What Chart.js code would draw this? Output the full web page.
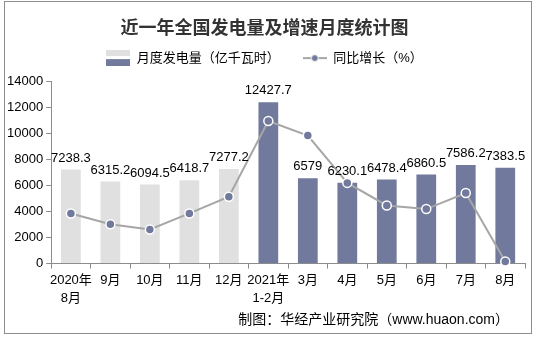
<!DOCTYPE html>
<html>
<head>
<meta charset="utf-8">
<script src="https://cdn.jsdelivr.net/npm/chart.js@4/dist/chart.umd.min.js"></script>
<style>
  html, body { margin: 0; padding: 0; background: #fff; }
  #wrap { position: relative; width: 536px; height: 338px; }
  #frame { position: absolute; left: 4px; top: 1px; width: 526px; height: 331px; border: 1px solid #8c8c8c; pointer-events: none; }
  #source { position: absolute; right: 27px; top: 308px; font: 14px "Liberation Sans", "Noto Sans CJK SC", sans-serif; color: #000; white-space: nowrap; }
</style>
</head>
<body>
<div id="wrap">
  <canvas id="chart" width="536" height="338"></canvas>
  <div id="frame"></div>
  <div id="source">制图：华经产业研究院（www.huaon.com）</div>
</div>
<script>
// 数据
const months = [['2020年', '8月'], '9月', '10月', '11月', '12月', ['2021年', '1-2月'], '3月', '4月', '5月', '6月', '7月', '8月'];
const generation = [7238.3, 6315.2, 6094.5, 6418.7, 7277.2, 12427.7, 6579, 6230.1, 6478.4, 6860.5, 7586.2, 7383.5];
const growth = [6.9, 5.4, 4.7, 6.9, 9.2, 19.6, 17.6, 11.1, 8.0, 7.5, 9.7, 0.3];
const yTicks = [0, 2000, 4000, 6000, 8000, 10000, 12000, 14000];

const GRAY = '#e0e0e0';
const BLUE = '#717a9c';
const FONT = '"Liberation Sans", "Noto Sans CJK SC", sans-serif';

// 柱子颜色：2020年灰色，2021年蓝色
const barColors = months.map((m, i) => i < 5 ? GRAY : BLUE);

// 图例图标
function barIcon() {
    const c = document.createElement('canvas');
    c.width = 24; c.height = 16;
    const g = c.getContext('2d');
    g.fillStyle = GRAY; g.fillRect(0, 0, 24, 6);
    g.fillStyle = BLUE; g.fillRect(0, 9, 24, 7);
    return c;
}
function lineIcon() {
    const c = document.createElement('canvas');
    c.width = 24; c.height = 10;
    const g = c.getContext('2d');
    g.strokeStyle = '#a6a6a6'; g.lineWidth = 2;
    g.beginPath(); g.moveTo(0, 5); g.lineTo(24, 5); g.stroke();
    g.fillStyle = BLUE; g.strokeStyle = '#fff'; g.lineWidth = 1;
    g.beginPath(); g.arc(12, 5, 3.5, 0, Math.PI * 2); g.fill(); g.stroke();
    return c;
}

// 柱顶数值
const barLabels = {
    id: 'barLabels',
    afterDatasetsDraw(chart) {
        const meta = chart.getDatasetMeta(0);
        const ctx = chart.ctx;
        ctx.save();
        ctx.font = '13px ' + FONT;
        ctx.fillStyle = '#000';
        ctx.textAlign = 'center';
        ctx.textBaseline = 'bottom';
        meta.data.forEach((bar, i) => {
            ctx.fillText(String(generation[i]), bar.x, bar.y - 5);
        });
        ctx.restore();
    }
};

const icons = [barIcon(), lineIcon()];
// 第一个图例项后面补空格，拉开两项间距
const legendText = ['月度发电量（亿千瓦时）' + '\u3000\u2002', '同比增长（%）'];

new Chart(document.getElementById('chart'), {
    type: 'bar',
    data: {
        labels: months,
        datasets: [{
            label: '月度发电量（亿千瓦时）',
            data: generation,
            backgroundColor: barColors,
            categoryPercentage: 1,
            barPercentage: 0.5,
            yAxisID: 'y',
            order: 1
        }, {
            type: 'line',
            label: '同比增长（%）',
            data: growth,
            borderColor: '#a6a6a6',
            borderWidth: 2,
            pointRadius: 4.5,
            pointBackgroundColor: BLUE,
            pointBorderColor: '#fff',
            pointBorderWidth: 1.5,
            tension: 0,
            clip: false,
            yAxisID: 'y1',
            order: 0
        }]
    },
    options: {
        responsive: false,
        animation: false,
        layout: { padding: { left: 4, right: 11, top: 0, bottom: 27 } },
        plugins: {
            title: {
                display: true,
                text: '近一年全国发电量及增速月度统计图',
                color: '#333',
                font: { family: FONT, size: 18, weight: 'bold' },
                padding: { top: 18, bottom: 2 }
            },
            // 空白副标题放在图例下面，当作间隔
            subtitle: {
                display: true,
                text: ' ',
                weight: 500,
                font: { size: 1 },
                padding: { top: 0, bottom: 6 }
            },
            legend: {
                display: true,
                labels: {
                    color: '#000',
                    font: { family: FONT, size: 13 },
                    usePointStyle: true,
                    pointStyleWidth: 24,
                    padding: 10,
                    generateLabels: (chart) => chart.data.datasets.map((ds, i) => ({
                        text: legendText[i],
                        pointStyle: icons[i],
                        fillStyle: BLUE,
                        strokeStyle: BLUE,
                        lineWidth: 0,
                        datasetIndex: i,
                        fontColor: '#000'
                    }))
                }
            },
            tooltip: { enabled: false }
        },
        scales: {
            x: {
                grid: { drawOnChartArea: false, color: '#8c8c8c', tickLength: 5, offset: true },
                border: { color: '#8c8c8c' },
                ticks: { color: '#000', font: { family: FONT, size: 13, lineHeight: 1.4 }, padding: 3, maxRotation: 0, autoSkip: false }
            },
            y: {
                min: 0,
                max: 14000,
                afterBuildTicks: (axis) => { axis.ticks = yTicks.map(v => ({ value: v })); },
                grid: { drawOnChartArea: false, color: '#8c8c8c', tickLength: 5 },
                border: { color: '#8c8c8c' },
                ticks: { color: '#000', font: { family: FONT, size: 13 }, padding: 3, autoSkip: false, callback: (v) => String(v) }
            },
            y1: {
                display: false,
                position: 'right',
                min: 0,
                max: 25
            }
        }
    },
    plugins: [barLabels]
});
</script>
</body>
</html>
